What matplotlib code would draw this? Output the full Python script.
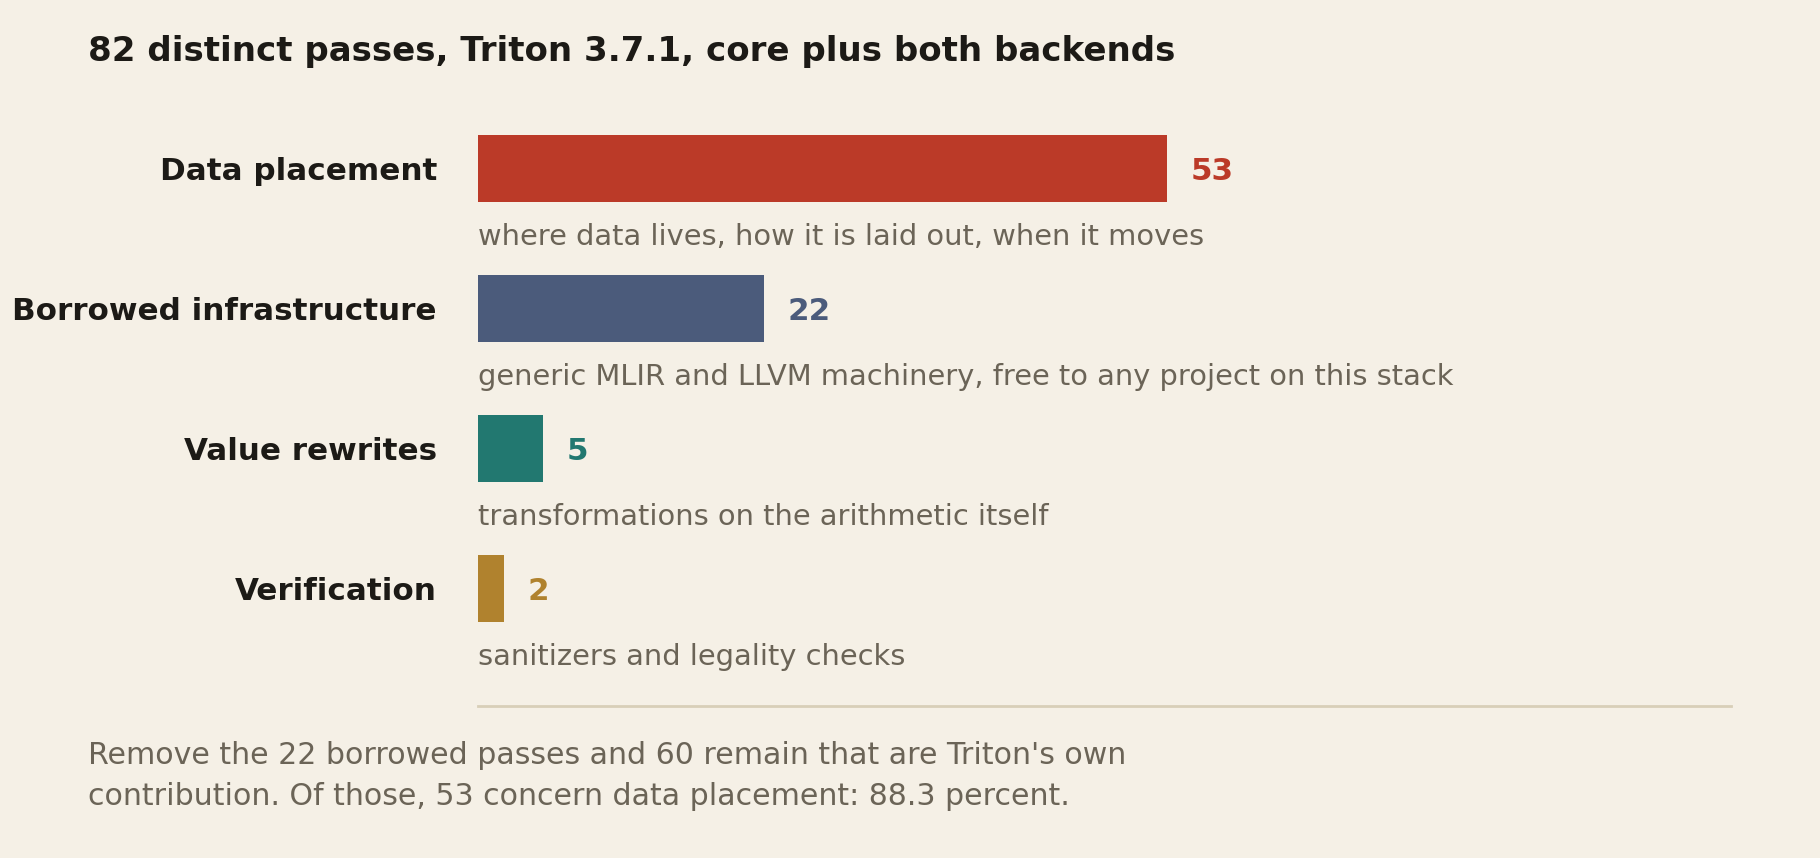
import matplotlib
matplotlib.use('Agg')
import matplotlib.pyplot as plt

# data
categories = ['Data placement', 'Borrowed infrastructure', 'Value rewrites', 'Verification']
counts = [53, 22, 5, 2]
notes = ['where data lives, how it is laid out, when it moves',
         'generic MLIR and LLVM machinery, free to any project on this stack',
         'transformations on the arithmetic itself',
         'sanitizers and legality checks']
colors = ['#bb3a28', '#4b5b7b', '#227870', '#b0822e']
title = '82 distinct passes, Triton 3.7.1, core plus both backends'
footnote = ("Remove the 22 borrowed passes and 60 remain that are Triton's own\n"
            "contribution. Of those, 53 concern data placement: 88.3 percent.")

bg = '#f5f0e6'
dark = '#1c1a16'
grey = '#6b6457'

W, H = 1820, 858
fig = plt.figure(figsize=(W / 100, H / 100), dpi=100, facecolor=bg)

# axes: left edge at bar start, bottom at the rule line
ax_l, ax_r = 478, 1731
ax_top, ax_bot = 98.5, 706
ax = fig.add_axes([ax_l / W, 1 - ax_bot / H, (ax_r - ax_l) / W, (ax_bot - ax_top) / H])
ax.set_facecolor(bg)
px = 13.0  # pixels per pass
ax.set_xlim(0, (ax_r - ax_l) / px)
ax.set_ylim((ax_bot - 168.5) / 140, -0.5)

ypos = list(range(len(categories)))
ax.barh(ypos, counts, height=0.48, color=colors)

for i, (cat, n, note, c) in enumerate(zip(categories, counts, notes, colors)):
    ax.text(-41 / px, i + 0.025, cat, ha='right', va='center', fontsize=22.3,
            fontweight='bold', color=dark, clip_on=False)
    ax.text(n + 24 / px, i + 0.025, str(n), ha='left', va='center', fontsize=22.3,
            fontweight='bold', color=c)
    ax.text(0, i + 0.49, note, ha='left', va='center', fontsize=20.8, color=grey)

ax.axhline(ax.get_ylim()[0], color='#d8cfb8', lw=2, clip_on=False)
for s in ax.spines.values():
    s.set_visible(False)
ax.set_xticks([])
ax.set_yticks([])

fig.text(88 / W, 1 - 52 / H, title, ha='left', va='center', fontsize=24.5,
         fontweight='bold', color=dark)
fig.text(88 / W, 1 - 741 / H, footnote, ha='left', va='top', fontsize=21.6,
         color=grey, linespacing=1.54)

fig.savefig('out.png', dpi=100, facecolor=bg)
